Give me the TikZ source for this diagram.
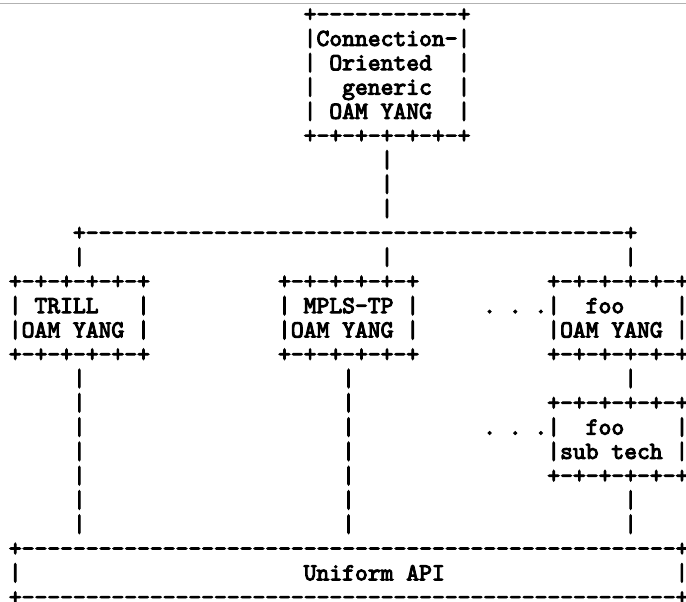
\documentclass[tikz,border=0pt]{standalone}
\usepackage{fontspec}
\setmonofont{lmmono10-regular.otf}[FakeBold=4]
\usetikzlibrary{positioning}

\begin{document}
\begin{tikzpicture}[
    x=9.6pt, y=-18.19pt,
    ascii/.style={font=\ttfamily\fontsize{18.29pt}{18.29pt}\selectfont, inner sep=0pt, anchor=base west},
    rule/.style={draw=black!30, line width=0.75pt}
]
\useasboundingbox (-0.671,0.109) rectangle (52.84,24.852);
\draw[rule] (-0.671,0.26) -- (52.84,0.26);

% generic connection-oriented model
\node[ascii] (gen1) at (23,1) {+-----------+};
\node[ascii] (gen2) at (23,2) {|Connection-|};
\node[ascii] (gen3) at (23,3) {|~Oriented~~|};
\node[ascii] (gen4) at (23,4) {|~~generic~~|};
\node[ascii] (gen5) at (23,5) {|~OAM~YANG~~|};
\node[ascii] (gen6) at (23,6) {+-+-+-+-+-+-+};
\foreach \r in {7,8,9}
    \node[ascii] (stem\r) at (29,\r) {|};

% fan-out line
\node[ascii] (fan) at (5,10) {+------------------------------------------+};
\foreach \c/\n in {5/trill,29/mpls,48/foo}
    \node[ascii] (drop-\n) at (\c,11) {|};

% technology specific models
\node[ascii] (trill1) at (0,12) {+-+-+-+-+-+};
\node[ascii] (trill2) at (0,13) {|~TRILL~~~|};
\node[ascii] (trill3) at (0,14) {|OAM~YANG~|};
\node[ascii] (trill4) at (0,15) {+-+-+-+-+-+};

\node[ascii] (mpls1) at (21,12) {+-+-+-+-+-+};
\node[ascii] (mpls2) at (21,13) {|~MPLS-TP~|};
\node[ascii] (mpls3) at (21,14) {|OAM~YANG~|};
\node[ascii] (mpls4) at (21,15) {+-+-+-+-+-+};

\node[ascii] (foo1) at (42,12) {+-+-+-+-+-+};
\node[ascii] (foo2) at (37,13) {.~.~.|~~foo~~~~|};
\node[ascii] (foo3) at (42,14) {|OAM~YANG~|};
\node[ascii] (foo4) at (42,15) {+-+-+-+-+-+};

% foo sub technology
\node[ascii] (sub0) at (48,16) {|};
\node[ascii] (sub1) at (42,17) {+-+-+-+-+-+};
\node[ascii] (sub2) at (37,18) {.~.~.|~~foo~~~~|};
\node[ascii] (sub3) at (42,19) {|sub~tech~|};
\node[ascii] (sub4) at (42,20) {+-+-+-+-+-+};
\foreach \r in {21,22}
    \node[ascii] (sub-stem\r) at (48,\r) {|};

% down to the API
\foreach \r in {16,...,22} {
    \node[ascii] (trill-stem\r) at (5,\r) {|};
    \node[ascii] (mpls-stem\r) at (26,\r) {|};
}

% uniform API
\node[ascii] (api1) at (0,23) {+---------------------------------------------------+};
\node[ascii] (api2l) at (0,24) {|};
\node[ascii] (api2) at (23,24) {Uniform~API};
\node[ascii] (api2r) at (52,24) {|};
\node[ascii] (api3) at (0,25) {+---------------------------------------------------+};

\end{tikzpicture}
\end{document}
